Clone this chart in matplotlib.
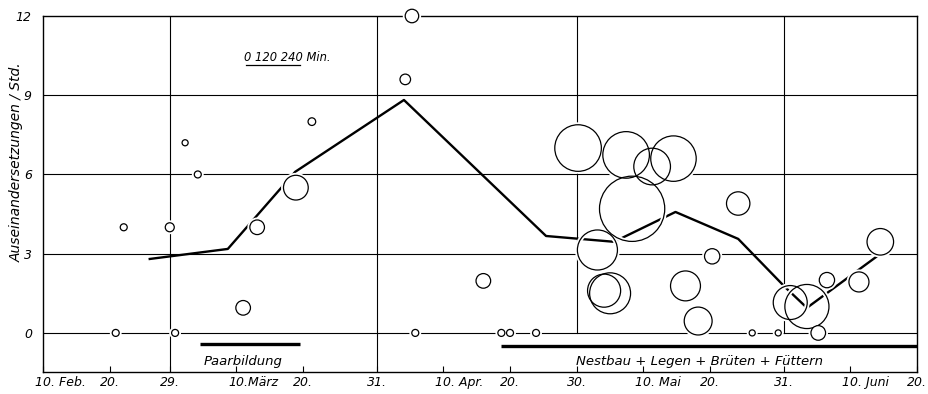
import numpy as np
import matplotlib.pyplot as plt
import matplotlib.transforms as mtransforms

# Tage im Jahr (Schaltjahr, 29. Feb = Tag 60)
tick_days = [41, 51, 60, 70, 80, 91, 101, 111, 121, 131, 141, 152, 162, 172]
tick_labels = ["10. Feb.", "20.", "29.", "10.März", "20.", "31.", "10. Apr.", "20.",
               "30.", "10. Mai", "20.", "31.", "10. Juni", "20."]
month_ends = [60, 91, 121, 152]

# Mittelwertlinie
mean_days = [57.0, 68.7, 78.8, 95.1, 116.4, 126.6, 135.8, 145.2, 152.2, 155.5, 166.0]
mean_vals = [2.80, 3.18, 6.10, 8.82, 3.67, 3.45, 4.58, 3.56, 1.74, 0.95, 2.90]

# Einzelbeobachtungen: Tag, Auseinandersetzungen / Std., Beobachtungsdauer (Min.)
obs_days = [53.1, 51.9, 60.0, 60.8, 62.3, 64.2, 71.0, 73.1, 78.9, 81.3,
            96.3, 95.3, 96.8, 107.0, 109.7, 111.0, 114.9,
            121.2, 128.4, 132.3, 135.5, 129.3, 124.1, 125.1, 126.0,
            141.3, 137.3, 139.2, 145.2,
            166.5, 158.5, 163.3, 153.0, 155.5, 157.2, 147.3, 151.2]
obs_vals = [4.0, 0.0, 4.0, 0.0, 7.2, 6.0, 0.95, 4.0, 5.5, 8.0,
            12.0, 9.6, 0.0, 1.97, 0.0, 0.0, 0.0,
            7.0, 6.74, 6.3, 6.6, 4.7, 3.14, 1.6, 1.5,
            2.9, 1.78, 0.45, 4.9,
            3.45, 2.0, 1.93, 1.15, 1.0, 0.0, 0.0, 0.0]
obs_min = [31, 31, 40, 31, 27, 31, 65, 65, 110, 34,
           60, 47, 31, 65, 31, 31, 31,
           207, 207, 163, 202, 290, 178, 147, 182,
           68, 133, 124, 104,
           118, 68, 89, 151, 196, 65, 27, 27]

# Phasen
phase_names = ["Paarbildung", "Nestbau + Legen + Brüten + Füttern"]
phase_start = [64.5, 109.7]
phase_end = [79.5, 172.0]

px_per_min = 0.225  # Kreisdurchmesser in Pixel je Minute
font = ['DejaVu Sans']

fig = plt.figure(figsize=(9.29, 3.94), dpi=100)
ax = fig.add_axes([43 / 929, 22 / 394, 874 / 929, 356 / 394])
ax.set_xlim(41, 172)
ax.set_ylim(-1.48, 12)

# Gitter
for v in [0, 3, 6, 9]:
    ax.axhline(v, color='black', lw=0.8, zorder=1)
for d in month_ends:
    ymin = 0 if d < 100 else 1.48 / 13.48
    ax.axvline(d, ymin=ymin, color='black', lw=0.8, zorder=1)

# Kreise
days = np.array(obs_days)
vals = np.array(obs_vals)
d_pt = np.array(obs_min) * px_per_min * 0.72
sizes = d_pt ** 2
small = d_pt < 30 * 0.72
ax.scatter(days[~small], vals[~small], s=sizes[~small], facecolor='white',
           edgecolor='none', zorder=2, clip_on=False)
ax.scatter(days, vals, s=sizes, facecolor='none', edgecolor='white',
           linewidth=3.5, zorder=3.5, clip_on=False)
ax.scatter(days[~small], vals[~small], s=sizes[~small], facecolor='none',
           edgecolor='black', linewidth=0.9, zorder=4, clip_on=False)
ax.scatter(days[small], vals[small], s=sizes[small], facecolor='white',
           edgecolor='black', linewidth=0.9, zorder=4, clip_on=False)

# Mittelwertlinie
ax.plot(mean_days, mean_vals, color='black', lw=1.7, zorder=3)

# Phasenbalken
for name, a, b in zip(phase_names, phase_start, phase_end):
    y = -0.42 if b < 100 else -0.49
    ax.plot([a, b], [y, y], color='black', lw=2.4, solid_capstyle='butt', zorder=3)
    ax.text((a + b) / 2 - (1.0 if b < 100 else 1.5), -1.08, name, ha='center', va='center',
            fontsize=9.5, style='italic', family=font)

# Maßstab
x0 = 71.4
scale_len = 240 * px_per_min / 6.67
ax.plot([x0, x0 + scale_len], [10.15, 10.15], color='black', lw=0.9)
ax.text(x0 - 0.3, 10.2, "0 120 240 Min.", ha='left', va='bottom',
        fontsize=8.3, style='italic', family=font)

# Achsen
ax.set_xticks(tick_days)
ax.set_xticklabels(tick_labels, fontsize=9, style='italic', family=font)
ax.set_yticks([0, 3, 6, 9, 12])
ax.set_yticklabels(['0', '3', '6', '9', '12'], fontsize=9, style='italic', family=font)
ax.tick_params(axis='x', direction='in', length=4, width=0.8, pad=3)
ax.tick_params(axis='y', length=0, pad=8)
shift = mtransforms.ScaledTranslation(-0.08, 0, fig.dpi_scale_trans)
for lab in ax.get_xticklabels():
    if len(lab.get_text()) > 3:
        lab.set_horizontalalignment('left')
        lab.set_transform(lab.get_transform() + shift)

ax.set_ylabel("Auseinandersetzungen / Std.", fontsize=10, style='italic', family=font)
ax.yaxis.set_label_coords(-0.022, 0.59)
for s in ax.spines.values():
    s.set_linewidth(1.0)

fig.savefig("out.png", dpi=100)
